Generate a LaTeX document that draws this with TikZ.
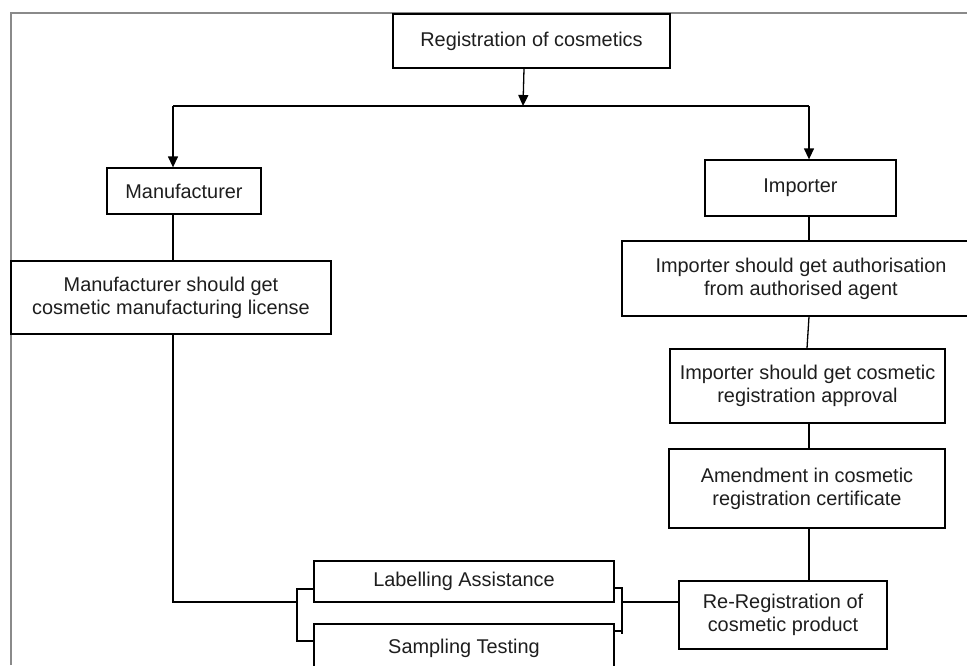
\documentclass[tikz,border=0pt]{standalone}
\usepackage{fontspec}
\setmainfont{Liberation Sans}
\usetikzlibrary{arrows.meta}
\newcommand\dgfont{\fontsize{19.9}{23}\selectfont}
\definecolor{txt}{HTML}{1E1E1E}
\definecolor{frame}{HTML}{8A8A8A}
\tikzset{
  dbox/.style={draw=black, line width=1.3pt, fill=white, inner sep=0pt, align=center, font=\dgfont, text=txt},
  ln/.style={draw=black, line width=1.3pt},
  arr/.style={ln, -{Triangle[length=11pt,width=10pt]}},
}
\begin{document}
\begin{tikzpicture}[x=1pt,y=-1pt]
\useasboundingbox (0,0) rectangle (967,665);
\clip (0,0) rectangle (967,665);
% frame
\draw[frame, line width=2pt] (10.5,665) -- (10.5,13) -- (967,13);
% boxes
\node[dbox, minimum width=277pt, minimum height=54pt] (reg) at (531.5,41) {Registration of cosmetics};
\node[dbox, minimum width=154pt, minimum height=46pt] (man) at (184,191) {Manufacturer};
\node[dbox, minimum width=191pt, minimum height=56pt] (imp) at (800.5,188) {Importer};
\node[dbox, minimum width=320pt, minimum height=73pt] (lic) at (171,297.5) {Manufacturer should get\\cosmetic manufacturing license};
\node[dbox, minimum width=358pt, minimum height=75pt] (auth) at (801,278.5) {Importer should get authorisation\\from authorised agent};
\node[dbox, minimum width=275pt, minimum height=74pt] (appr) at (807.5,386) {Importer should get cosmetic\\registration approval};
\node[dbox, minimum width=276pt, minimum height=79pt] (amend) at (807,488.5) {Amendment in cosmetic\\registration certificate};
\node[dbox, minimum width=208pt, minimum height=68pt] (rereg) at (783,615) {Re-Registration of\\cosmetic product};
\node[dbox, minimum width=300pt, minimum height=41pt] (lab) at (464,581.5) {Labelling Assistance};
\node[dbox, minimum width=300pt, minimum height=48pt] (samp) at (464,648) {Sampling Testing};
% lane coordinates
\coordinate (xa) at (524,0);
\coordinate (top) at (523,106);
\coordinate (lanem) at (173,106);
\coordinate (lanei) at (809,106);
\coordinate (xb) at (807,0);
\coordinate (bl) at (297,602);
\coordinate (blt) at (297,589);
\coordinate (blb) at (297,641);
\coordinate (brt) at (622,588);
\coordinate (brb) at (622,634);
\coordinate (brs) at (622,631);
\coordinate (cr) at (622,602);
% connectors
\draw[arr] (reg.south -| xa) -- (top);
\draw[ln] (lanem) -- (lanei);
\draw[arr] (lanem) -- (man.north -| lanem);
\draw[arr] (lanei) -- (imp.north -| lanei);
\draw[ln] (man.south -| lanem) -- (lic.north -| lanem);
\draw[ln] (imp.south -| lanei) -- (auth.north -| lanei);
\draw[ln] (auth.south -| lanei) -- (appr.north -| xb);
\draw[ln] (appr.south -| lanei) -- (amend.north -| lanei);
\draw[ln] (amend.south -| lanei) -- (rereg.north -| lanei);
\draw[ln] (lic.south -| lanem) |- (bl);
\draw[ln] (lab.west |- blt) -- (blt) -- (blb) -- (samp.west |- blb);
\draw[ln] (lab.east |- brt) -- (brt) -- (brb);
\draw[ln] (samp.east |- brs) -- (brs);
\draw[ln] (cr) -- (rereg.west |- cr);
\end{tikzpicture}
\end{document}
